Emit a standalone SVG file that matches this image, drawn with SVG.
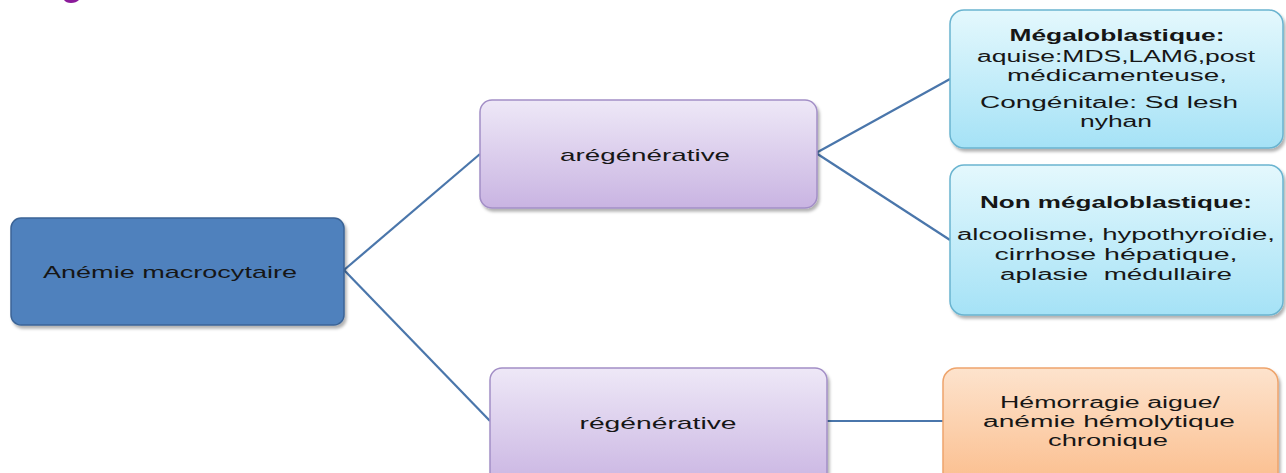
<svg xmlns="http://www.w3.org/2000/svg" width="1286" height="473" viewBox="0 0 1286 473">
  <defs>
    <linearGradient id="lavender" x1="0" y1="0" x2="0" y2="1">
      <stop offset="0" stop-color="#eee8f7"/>
      <stop offset="1" stop-color="#c9b4e2"/>
    </linearGradient>
    <linearGradient id="sky" x1="0" y1="0" x2="0" y2="1">
      <stop offset="0" stop-color="#e4f8fd"/>
      <stop offset="1" stop-color="#a5e2f6"/>
    </linearGradient>
    <linearGradient id="peach" x1="0" y1="0" x2="0" y2="1">
      <stop offset="0" stop-color="#fde3cd"/>
      <stop offset="1" stop-color="#fbbd8c"/>
    </linearGradient>
    <filter id="shadow" x="-5%" y="-5%" width="115%" height="120%">
      <feDropShadow dx="2" dy="3" stdDeviation="1.5" flood-color="#000" flood-opacity="0.3"/>
    </filter>
  </defs>
  <style>
    text { font-family: "Liberation Sans", "Open Sans", sans-serif; font-size: 17px; fill: #161616; text-anchor: middle; }
    .sm { font-size: 16px; }
    .b { font-weight: bold; }
    .root { fill: #4f81bd; stroke: #3b6496; stroke-width: 1.5; }
    .lav { fill: url(#lavender); stroke: #a28ec6; stroke-width: 1.5; }
    .sky { fill: url(#sky); stroke: #6ab4d0; stroke-width: 1.5; }
    .peach { fill: url(#peach); stroke: #eea46c; stroke-width: 1.5; }
    .conn { stroke: #4a76ab; stroke-width: 2.2; fill: none; }
  </style>

  <rect width="1286" height="473" fill="#ffffff"/>

  <!-- clipped heading fragment at the top edge -->
  <path d="M64 0 H79 Q76 3 71 3 Q66 3 64 0 Z" fill="#8b1a9a"/>

  <g id="connectors">
    <path class="conn" d="M344 270 L480 154"/>
    <path class="conn" d="M344 270 L490 421"/>
    <path class="conn" d="M816 153 L950 79"/>
    <path class="conn" d="M816 153 L950 240"/>
    <path class="conn" d="M827 421 L943 421"/>
  </g>

  <g id="node-root">
    <rect class="root" x="11" y="218" width="333" height="107" rx="10" filter="url(#shadow)"/>
    <text x="170" y="278" textLength="254" lengthAdjust="spacingAndGlyphs">Anémie macrocytaire</text>
  </g>

  <g id="node-aregenerative">
    <rect class="lav" x="480" y="100" width="337" height="108" rx="12" filter="url(#shadow)"/>
    <text x="645" y="161" textLength="170" lengthAdjust="spacingAndGlyphs">arégénérative</text>
  </g>

  <g id="node-regenerative">
    <rect class="lav" x="490" y="368" width="337" height="120" rx="12" filter="url(#shadow)"/>
    <text x="658" y="429" textLength="157" lengthAdjust="spacingAndGlyphs">régénérative</text>
  </g>

  <g id="node-megaloblastique">
    <rect class="sky" x="950" y="10" width="333" height="138" rx="14" filter="url(#shadow)"/>
    <text class="b sm" x="1117" y="41" textLength="215" lengthAdjust="spacingAndGlyphs">Mégaloblastique:</text>
    <text class="sm" x="1116" y="62" textLength="278" lengthAdjust="spacingAndGlyphs">aquise:MDS,LAM6,post</text>
    <text class="sm" x="1117" y="81" textLength="220" lengthAdjust="spacingAndGlyphs">médicamenteuse,</text>
    <text class="sm" x="1109" y="108" textLength="258" lengthAdjust="spacingAndGlyphs">Congénitale: Sd lesh</text>
    <text class="sm" x="1116" y="127" textLength="72" lengthAdjust="spacingAndGlyphs">nyhan</text>
  </g>

  <g id="node-non-megaloblastique">
    <rect class="sky" x="950" y="165" width="333" height="150" rx="14" filter="url(#shadow)"/>
    <text class="b sm" x="1116" y="208" textLength="272" lengthAdjust="spacingAndGlyphs">Non mégaloblastique:</text>
    <text class="sm" x="1116" y="240" textLength="318" lengthAdjust="spacingAndGlyphs">alcoolisme, hypothyroïdie,</text>
    <text class="sm" x="1116" y="260" textLength="243" lengthAdjust="spacingAndGlyphs">cirrhose hépatique,</text>
    <text class="sm" x="1116" y="280" textLength="232" lengthAdjust="spacingAndGlyphs" xml:space="preserve">aplasie  médullaire</text>
  </g>

  <g id="node-hemorragie">
    <rect class="peach" x="943" y="368" width="335" height="120" rx="14" filter="url(#shadow)"/>
    <text class="sm" x="1110" y="408" textLength="220" lengthAdjust="spacingAndGlyphs">Hémorragie aigue/</text>
    <text class="sm" x="1109" y="427" textLength="252" lengthAdjust="spacingAndGlyphs">anémie hémolytique</text>
    <text class="sm" x="1108" y="446" textLength="120" lengthAdjust="spacingAndGlyphs">chronique</text>
  </g>
</svg>
